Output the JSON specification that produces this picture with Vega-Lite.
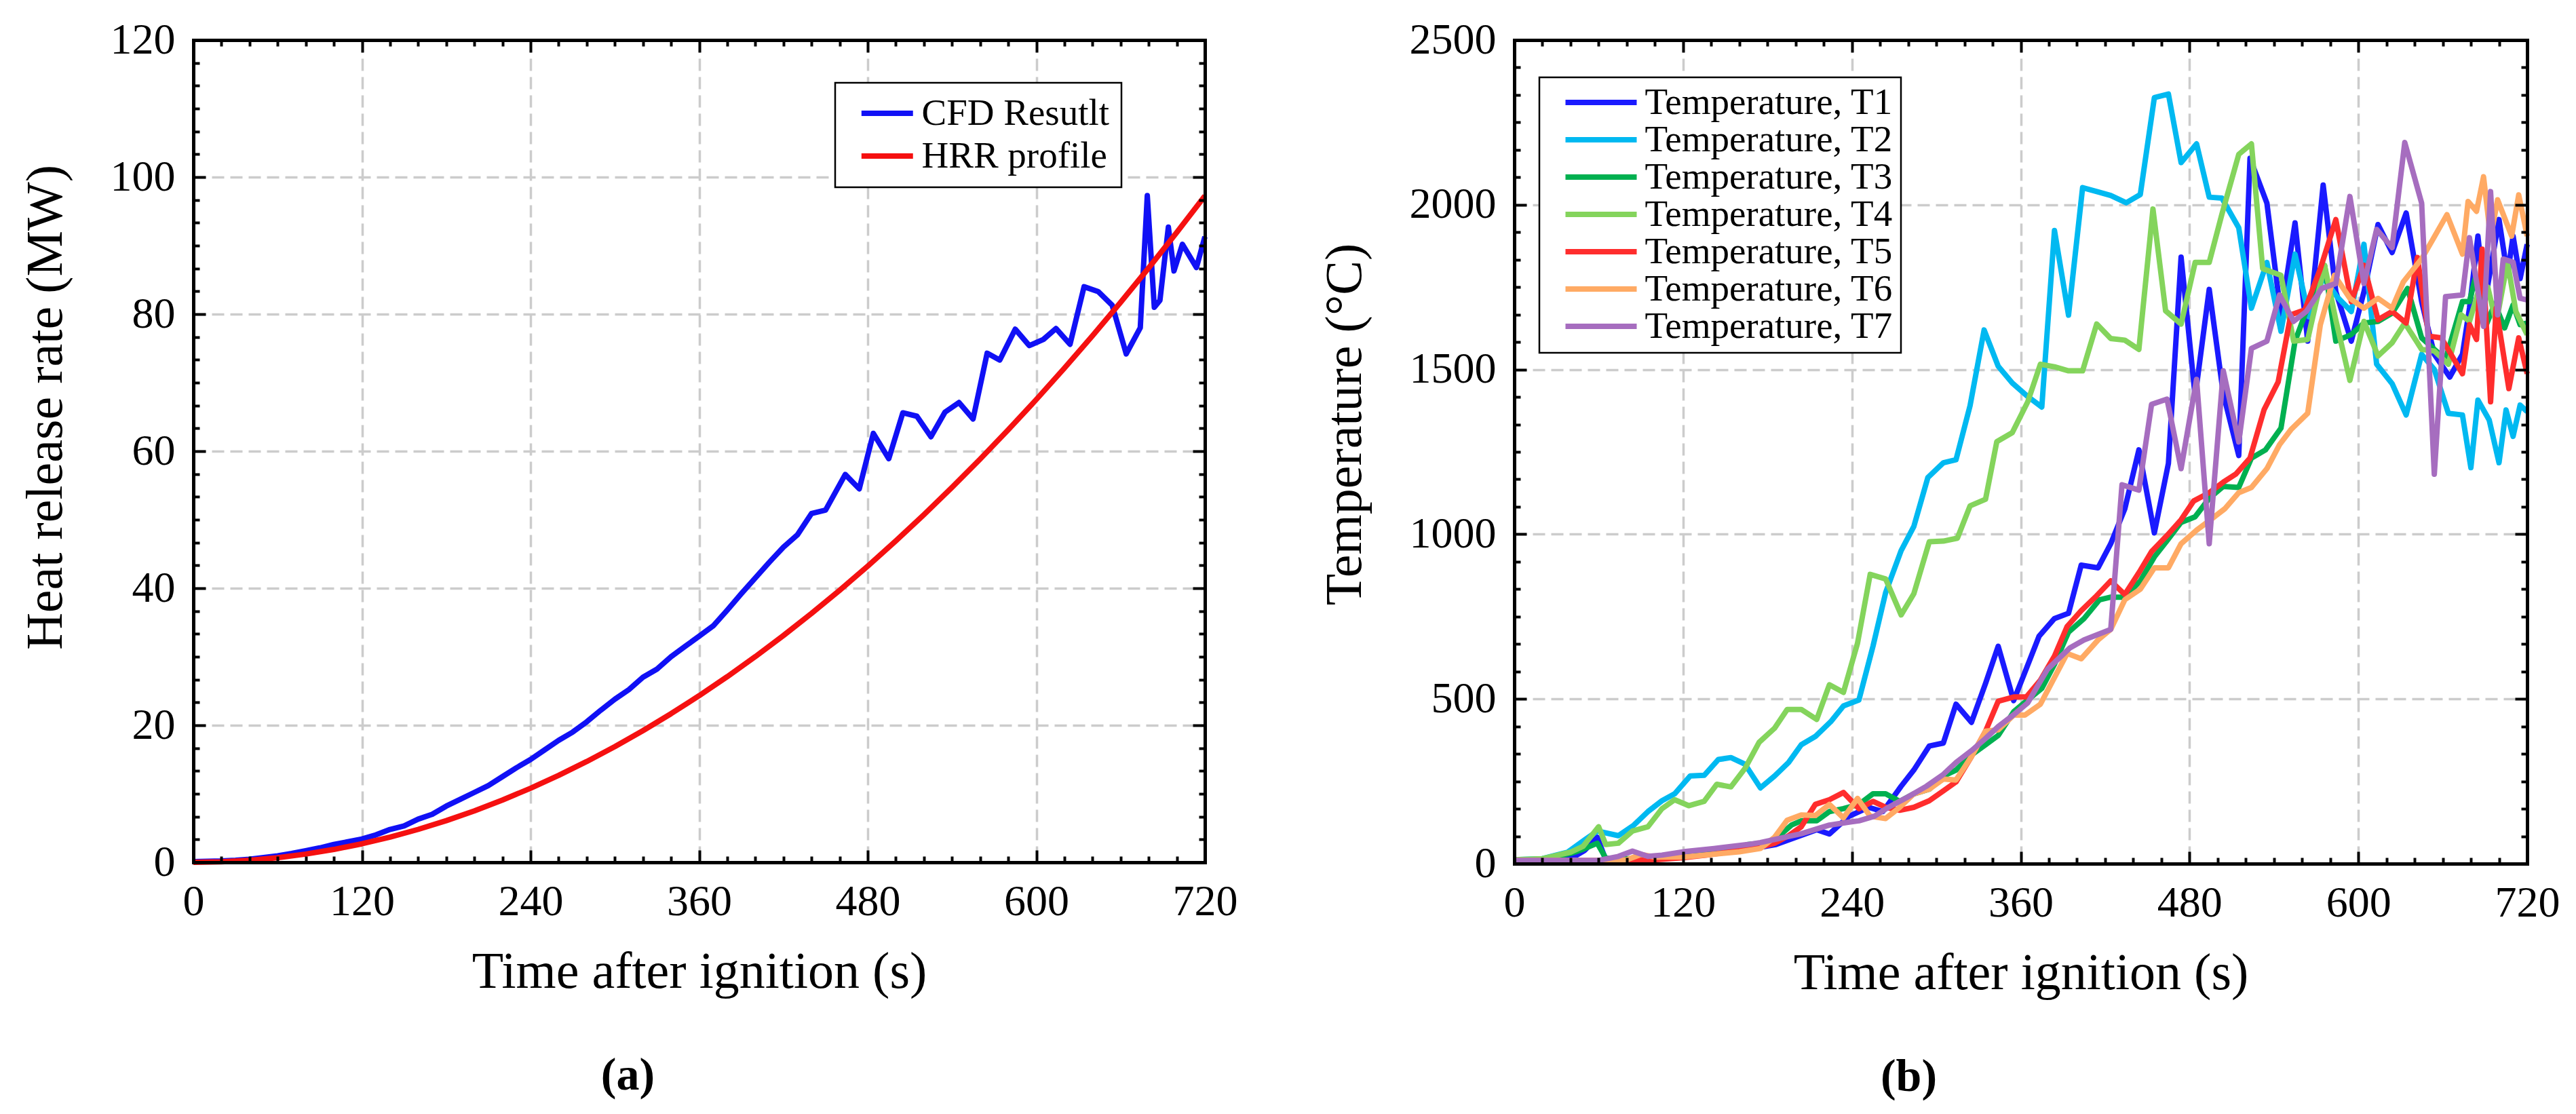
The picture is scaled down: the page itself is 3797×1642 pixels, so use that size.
{
  "$schema": "https://vega.github.io/schema/vega-lite/v6.json",
  "background": "white",
  "padding": {"left": 29, "top": 27, "right": 0, "bottom": 0},
  "config": {
    "font": "Liberation Serif",
    "view": {"stroke": null},
    "axis": {"labelFont": "Liberation Serif", "titleFont": "Liberation Serif", "labelColor": "black", "titleColor": "black", "titleFontWeight": "normal"},
    "legend": {"labelFont": "Liberation Serif", "labelColor": "black", "strokeColor": "black", "strokeWidth": 2.5, "fillColor": "white", "labelLimit": 1000}
  },
  "spacing": 120,
  "resolve": {"scale": {"color": "independent"}, "legend": {"color": "independent"}},
  "datasets": {
    "hrr": [
      {"t":0,"v":0.1,"s":"CFD Resutlt"},{"t":10,"v":0.15,"s":"CFD Resutlt"},{"t":20,"v":0.2,"s":"CFD Resutlt"},{"t":30,"v":0.3,"s":"CFD Resutlt"},{"t":40,"v":0.45,"s":"CFD Resutlt"},{"t":50,"v":0.7,"s":"CFD Resutlt"},{"t":60,"v":0.95,"s":"CFD Resutlt"},{"t":70,"v":1.3,"s":"CFD Resutlt"},{"t":80,"v":1.7,"s":"CFD Resutlt"},{"t":90,"v":2.1,"s":"CFD Resutlt"},{"t":100,"v":2.6,"s":"CFD Resutlt"},{"t":110,"v":3.0,"s":"CFD Resutlt"},{"t":120,"v":3.4,"s":"CFD Resutlt"},{"t":130,"v":4.0,"s":"CFD Resutlt"},{"t":140,"v":4.8,"s":"CFD Resutlt"},{"t":150,"v":5.3,"s":"CFD Resutlt"},{"t":160,"v":6.3,"s":"CFD Resutlt"},{"t":170,"v":7.0,"s":"CFD Resutlt"},{"t":180,"v":8.2,"s":"CFD Resutlt"},{"t":190,"v":9.2,"s":"CFD Resutlt"},{"t":200,"v":10.2,"s":"CFD Resutlt"},{"t":210,"v":11.2,"s":"CFD Resutlt"},{"t":220,"v":12.5,"s":"CFD Resutlt"},{"t":230,"v":13.8,"s":"CFD Resutlt"},{"t":240,"v":15.0,"s":"CFD Resutlt"},{"t":250,"v":16.4,"s":"CFD Resutlt"},{"t":260,"v":17.8,"s":"CFD Resutlt"},{"t":270,"v":19.0,"s":"CFD Resutlt"},{"t":280,"v":20.5,"s":"CFD Resutlt"},{"t":290,"v":22.2,"s":"CFD Resutlt"},{"t":300,"v":23.8,"s":"CFD Resutlt"},{"t":310,"v":25.2,"s":"CFD Resutlt"},{"t":320,"v":27.0,"s":"CFD Resutlt"},{"t":330,"v":28.2,"s":"CFD Resutlt"},{"t":340,"v":30.0,"s":"CFD Resutlt"},{"t":350,"v":31.5,"s":"CFD Resutlt"},{"t":360,"v":33.0,"s":"CFD Resutlt"},{"t":370,"v":34.5,"s":"CFD Resutlt"},{"t":380,"v":36.8,"s":"CFD Resutlt"},{"t":390,"v":39.2,"s":"CFD Resutlt"},{"t":400,"v":41.5,"s":"CFD Resutlt"},{"t":410,"v":43.8,"s":"CFD Resutlt"},{"t":420,"v":46.0,"s":"CFD Resutlt"},{"t":430,"v":47.8,"s":"CFD Resutlt"},{"t":440,"v":50.9,"s":"CFD Resutlt"},{"t":450,"v":51.4,"s":"CFD Resutlt"},{"t":464,"v":56.6,"s":"CFD Resutlt"},{"t":474,"v":54.5,"s":"CFD Resutlt"},{"t":484,"v":62.6,"s":"CFD Resutlt"},{"t":495,"v":58.9,"s":"CFD Resutlt"},{"t":505,"v":65.6,"s":"CFD Resutlt"},{"t":515,"v":65.1,"s":"CFD Resutlt"},{"t":525,"v":62.1,"s":"CFD Resutlt"},{"t":535,"v":65.7,"s":"CFD Resutlt"},{"t":545,"v":67.1,"s":"CFD Resutlt"},{"t":555,"v":64.7,"s":"CFD Resutlt"},{"t":565,"v":74.3,"s":"CFD Resutlt"},{"t":574,"v":73.3,"s":"CFD Resutlt"},{"t":585,"v":77.8,"s":"CFD Resutlt"},{"t":595,"v":75.4,"s":"CFD Resutlt"},{"t":605,"v":76.3,"s":"CFD Resutlt"},{"t":614,"v":77.9,"s":"CFD Resutlt"},{"t":624,"v":75.6,"s":"CFD Resutlt"},{"t":634,"v":84.0,"s":"CFD Resutlt"},{"t":644,"v":83.3,"s":"CFD Resutlt"},{"t":654,"v":81.3,"s":"CFD Resutlt"},{"t":664,"v":74.2,"s":"CFD Resutlt"},{"t":674,"v":78.0,"s":"CFD Resutlt"},{"t":679,"v":97.3,"s":"CFD Resutlt"},{"t":684,"v":81.0,"s":"CFD Resutlt"},{"t":688,"v":82.0,"s":"CFD Resutlt"},{"t":694,"v":92.7,"s":"CFD Resutlt"},{"t":698,"v":86.3,"s":"CFD Resutlt"},{"t":704,"v":90.2,"s":"CFD Resutlt"},{"t":714,"v":86.8,"s":"CFD Resutlt"},{"t":720,"v":91.3,"s":"CFD Resutlt"},
      {"t":0,"v":0,"s":"HRR profile"},{"t":20,"v":0.075,"s":"HRR profile"},{"t":40,"v":0.3,"s":"HRR profile"},{"t":60,"v":0.675,"s":"HRR profile"},{"t":80,"v":1.201,"s":"HRR profile"},{"t":100,"v":1.876,"s":"HRR profile"},{"t":120,"v":2.701,"s":"HRR profile"},{"t":140,"v":3.677,"s":"HRR profile"},{"t":160,"v":4.803,"s":"HRR profile"},{"t":180,"v":6.078,"s":"HRR profile"},{"t":200,"v":7.504,"s":"HRR profile"},{"t":220,"v":9.08,"s":"HRR profile"},{"t":240,"v":10.806,"s":"HRR profile"},{"t":260,"v":12.682,"s":"HRR profile"},{"t":280,"v":14.708,"s":"HRR profile"},{"t":300,"v":16.884,"s":"HRR profile"},{"t":320,"v":19.21,"s":"HRR profile"},{"t":340,"v":21.686,"s":"HRR profile"},{"t":360,"v":24.312,"s":"HRR profile"},{"t":380,"v":27.089,"s":"HRR profile"},{"t":400,"v":30.016,"s":"HRR profile"},{"t":420,"v":33.093,"s":"HRR profile"},{"t":440,"v":36.319,"s":"HRR profile"},{"t":460,"v":39.696,"s":"HRR profile"},{"t":480,"v":43.223,"s":"HRR profile"},{"t":500,"v":46.9,"s":"HRR profile"},{"t":520,"v":50.728,"s":"HRR profile"},{"t":540,"v":54.705,"s":"HRR profile"},{"t":560,"v":58.832,"s":"HRR profile"},{"t":580,"v":63.11,"s":"HRR profile"},{"t":600,"v":67.536,"s":"HRR profile"},{"t":620,"v":72.113,"s":"HRR profile"},{"t":640,"v":76.841,"s":"HRR profile"},{"t":660,"v":81.718,"s":"HRR profile"},{"t":680,"v":86.745,"s":"HRR profile"},{"t":700,"v":91.924,"s":"HRR profile"},{"t":720,"v":97.251,"s":"HRR profile"}
    ],
    "temp": [
      {"s":"T1","t":0,"v":10},{"s":"T1","t":10,"v":10},{"s":"T1","t":20,"v":10},{"s":"T1","t":30,"v":12},{"s":"T1","t":40,"v":15},{"s":"T1","t":50,"v":40},{"s":"T1","t":59,"v":80},{"s":"T1","t":65,"v":12},{"s":"T1","t":80,"v":12},{"s":"T1","t":100,"v":15},{"s":"T1","t":120,"v":22},{"s":"T1","t":140,"v":30},{"s":"T1","t":160,"v":40},{"s":"T1","t":175,"v":50},{"s":"T1","t":186,"v":58},{"s":"T1","t":200,"v":80},{"s":"T1","t":215,"v":103},{"s":"T1","t":224,"v":90},{"s":"T1","t":238,"v":144},{"s":"T1","t":252,"v":171},{"s":"T1","t":262,"v":158},{"s":"T1","t":275,"v":235},{"s":"T1","t":284,"v":284},{"s":"T1","t":295,"v":357},{"s":"T1","t":305,"v":366},{"s":"T1","t":314,"v":484},{"s":"T1","t":325,"v":429},{"s":"T1","t":335,"v":547},{"s":"T1","t":344,"v":660},{"s":"T1","t":355,"v":495},{"s":"T1","t":363,"v":581},{"s":"T1","t":373,"v":690},{"s":"T1","t":384,"v":744},{"s":"T1","t":394,"v":760},{"s":"T1","t":403,"v":906},{"s":"T1","t":415,"v":898},{"s":"T1","t":424,"v":971},{"s":"T1","t":434,"v":1077},{"s":"T1","t":444,"v":1256},{"s":"T1","t":455,"v":1004},{"s":"T1","t":465,"v":1215},{"s":"T1","t":474,"v":1841},{"s":"T1","t":484,"v":1418},{"s":"T1","t":494,"v":1743},{"s":"T1","t":504,"v":1426},{"s":"T1","t":515,"v":1239},{"s":"T1","t":523,"v":2141},{"s":"T1","t":535,"v":2005},{"s":"T1","t":545,"v":1666},{"s":"T1","t":555,"v":1945},{"s":"T1","t":564,"v":1586},{"s":"T1","t":575,"v":2060},{"s":"T1","t":584,"v":1736},{"s":"T1","t":595,"v":1586},{"s":"T1","t":604,"v":1736},{"s":"T1","t":614,"v":1940},{"s":"T1","t":624,"v":1855},{"s":"T1","t":634,"v":1975},{"s":"T1","t":645,"v":1706},{"s":"T1","t":654,"v":1546},{"s":"T1","t":665,"v":1477},{"s":"T1","t":674,"v":1546},{"s":"T1","t":679,"v":1686},{"s":"T1","t":685,"v":1905},{"s":"T1","t":690,"v":1706},{"s":"T1","t":700,"v":1955},{"s":"T1","t":706,"v":1786},{"s":"T1","t":710,"v":1905},{"s":"T1","t":715,"v":1776},{"s":"T1","t":720,"v":1880},
      {"s":"T2","t":0,"v":12},{"s":"T2","t":20,"v":15},{"s":"T2","t":38,"v":35},{"s":"T2","t":50,"v":72},{"s":"T2","t":59,"v":99},{"s":"T2","t":74,"v":85},{"s":"T2","t":85,"v":117},{"s":"T2","t":95,"v":158},{"s":"T2","t":105,"v":191},{"s":"T2","t":114,"v":212},{"s":"T2","t":125,"v":266},{"s":"T2","t":135,"v":268},{"s":"T2","t":145,"v":316},{"s":"T2","t":154,"v":322},{"s":"T2","t":164,"v":302},{"s":"T2","t":175,"v":230},{"s":"T2","t":185,"v":266},{"s":"T2","t":195,"v":307},{"s":"T2","t":204,"v":361},{"s":"T2","t":214,"v":386},{"s":"T2","t":225,"v":431},{"s":"T2","t":234,"v":479},{"s":"T2","t":245,"v":497},{"s":"T2","t":255,"v":660},{"s":"T2","t":264,"v":823},{"s":"T2","t":275,"v":950},{"s":"T2","t":284,"v":1023},{"s":"T2","t":294,"v":1172},{"s":"T2","t":305,"v":1217},{"s":"T2","t":314,"v":1226},{"s":"T2","t":324,"v":1390},{"s":"T2","t":334,"v":1620},{"s":"T2","t":344,"v":1510},{"s":"T2","t":354,"v":1459},{"s":"T2","t":365,"v":1418},{"s":"T2","t":375,"v":1386},{"s":"T2","t":384,"v":1922},{"s":"T2","t":394,"v":1665},{"s":"T2","t":404,"v":2052},{"s":"T2","t":415,"v":2039},{"s":"T2","t":424,"v":2028},{"s":"T2","t":435,"v":2006},{"s":"T2","t":445,"v":2031},{"s":"T2","t":455,"v":2325},{"s":"T2","t":465,"v":2336},{"s":"T2","t":474,"v":2128},{"s":"T2","t":485,"v":2185},{"s":"T2","t":494,"v":2023},{"s":"T2","t":503,"v":2020},{"s":"T2","t":515,"v":1930},{"s":"T2","t":524,"v":1686},{"s":"T2","t":535,"v":1825},{"s":"T2","t":545,"v":1616},{"s":"T2","t":555,"v":1850},{"s":"T2","t":565,"v":1660},{"s":"T2","t":575,"v":1780},{"s":"T2","t":585,"v":1720},{"s":"T2","t":595,"v":1676},{"s":"T2","t":604,"v":1880},{"s":"T2","t":613,"v":1516},{"s":"T2","t":624,"v":1457},{"s":"T2","t":634,"v":1362},{"s":"T2","t":645,"v":1546},{"s":"T2","t":654,"v":1500},{"s":"T2","t":664,"v":1367},{"s":"T2","t":674,"v":1362},{"s":"T2","t":680,"v":1202},{"s":"T2","t":685,"v":1407},{"s":"T2","t":693,"v":1347},{"s":"T2","t":700,"v":1217},{"s":"T2","t":705,"v":1377},{"s":"T2","t":710,"v":1297},{"s":"T2","t":715,"v":1392},{"s":"T2","t":720,"v":1372},
      {"s":"T3","t":0,"v":10},{"s":"T3","t":20,"v":12},{"s":"T3","t":40,"v":31},{"s":"T3","t":49,"v":44},{"s":"T3","t":59,"v":62},{"s":"T3","t":65,"v":17},{"s":"T3","t":80,"v":15},{"s":"T3","t":100,"v":18},{"s":"T3","t":120,"v":25},{"s":"T3","t":140,"v":35},{"s":"T3","t":155,"v":45},{"s":"T3","t":166,"v":58},{"s":"T3","t":175,"v":62},{"s":"T3","t":185,"v":72},{"s":"T3","t":197,"v":117},{"s":"T3","t":204,"v":130},{"s":"T3","t":215,"v":130},{"s":"T3","t":224,"v":158},{"s":"T3","t":234,"v":167},{"s":"T3","t":245,"v":180},{"s":"T3","t":255,"v":212},{"s":"T3","t":264,"v":212},{"s":"T3","t":274,"v":189},{"s":"T3","t":284,"v":212},{"s":"T3","t":295,"v":226},{"s":"T3","t":305,"v":266},{"s":"T3","t":314,"v":284},{"s":"T3","t":325,"v":330},{"s":"T3","t":335,"v":361},{"s":"T3","t":344,"v":389},{"s":"T3","t":355,"v":461},{"s":"T3","t":365,"v":497},{"s":"T3","t":375,"v":532},{"s":"T3","t":384,"v":605},{"s":"T3","t":394,"v":703},{"s":"T3","t":405,"v":744},{"s":"T3","t":416,"v":801},{"s":"T3","t":424,"v":809},{"s":"T3","t":434,"v":809},{"s":"T3","t":445,"v":858},{"s":"T3","t":455,"v":931},{"s":"T3","t":464,"v":980},{"s":"T3","t":474,"v":1036},{"s":"T3","t":484,"v":1053},{"s":"T3","t":494,"v":1109},{"s":"T3","t":504,"v":1145},{"s":"T3","t":515,"v":1142},{"s":"T3","t":524,"v":1231},{"s":"T3","t":534,"v":1256},{"s":"T3","t":545,"v":1322},{"s":"T3","t":555,"v":1586},{"s":"T3","t":565,"v":1700},{"s":"T3","t":576,"v":1816},{"s":"T3","t":584,"v":1586},{"s":"T3","t":595,"v":1606},{"s":"T3","t":604,"v":1641},{"s":"T3","t":614,"v":1646},{"s":"T3","t":624,"v":1671},{"s":"T3","t":635,"v":1746},{"s":"T3","t":645,"v":1596},{"s":"T3","t":654,"v":1561},{"s":"T3","t":662,"v":1531},{"s":"T3","t":674,"v":1706},{"s":"T3","t":679,"v":1706},{"s":"T3","t":683,"v":1776},{"s":"T3","t":691,"v":1636},{"s":"T3","t":697,"v":1700},{"s":"T3","t":704,"v":1626},{"s":"T3","t":710,"v":1696},{"s":"T3","t":715,"v":1636},{"s":"T3","t":720,"v":1641},
      {"s":"T4","t":0,"v":12},{"s":"T4","t":20,"v":15},{"s":"T4","t":40,"v":35},{"s":"T4","t":49,"v":53},{"s":"T4","t":60,"v":112},{"s":"T4","t":65,"v":58},{"s":"T4","t":74,"v":62},{"s":"T4","t":84,"v":99},{"s":"T4","t":95,"v":112},{"s":"T4","t":105,"v":167},{"s":"T4","t":114,"v":194},{"s":"T4","t":124,"v":176},{"s":"T4","t":135,"v":189},{"s":"T4","t":144,"v":241},{"s":"T4","t":154,"v":233},{"s":"T4","t":164,"v":289},{"s":"T4","t":174,"v":368},{"s":"T4","t":185,"v":411},{"s":"T4","t":194,"v":468},{"s":"T4","t":204,"v":468},{"s":"T4","t":215,"v":438},{"s":"T4","t":224,"v":543},{"s":"T4","t":234,"v":520},{"s":"T4","t":244,"v":669},{"s":"T4","t":253,"v":878},{"s":"T4","t":264,"v":864},{"s":"T4","t":275,"v":755},{"s":"T4","t":284,"v":819},{"s":"T4","t":295,"v":977},{"s":"T4","t":305,"v":979},{"s":"T4","t":315,"v":988},{"s":"T4","t":324,"v":1086},{"s":"T4","t":335,"v":1106},{"s":"T4","t":343,"v":1281},{"s":"T4","t":354,"v":1308},{"s":"T4","t":365,"v":1402},{"s":"T4","t":374,"v":1516},{"s":"T4","t":384,"v":1508},{"s":"T4","t":394,"v":1496},{"s":"T4","t":404,"v":1496},{"s":"T4","t":414,"v":1638},{"s":"T4","t":424,"v":1594},{"s":"T4","t":434,"v":1589},{"s":"T4","t":444,"v":1561},{"s":"T4","t":454,"v":1987},{"s":"T4","t":463,"v":1678},{"s":"T4","t":474,"v":1638},{"s":"T4","t":484,"v":1825},{"s":"T4","t":494,"v":1825},{"s":"T4","t":503,"v":1971},{"s":"T4","t":515,"v":2153},{"s":"T4","t":524,"v":2185},{"s":"T4","t":532,"v":1806},{"s":"T4","t":545,"v":1786},{"s":"T4","t":554,"v":1586},{"s":"T4","t":564,"v":1591},{"s":"T4","t":576,"v":1816},{"s":"T4","t":584,"v":1650},{"s":"T4","t":594,"v":1467},{"s":"T4","t":604,"v":1646},{"s":"T4","t":614,"v":1541},{"s":"T4","t":624,"v":1581},{"s":"T4","t":633,"v":1641},{"s":"T4","t":645,"v":1561},{"s":"T4","t":654,"v":1556},{"s":"T4","t":664,"v":1516},{"s":"T4","t":673,"v":1666},{"s":"T4","t":679,"v":1646},{"s":"T4","t":686,"v":1746},{"s":"T4","t":692,"v":1750},{"s":"T4","t":698,"v":1641},{"s":"T4","t":706,"v":1826},{"s":"T4","t":712,"v":1676},{"s":"T4","t":720,"v":1606},
      {"s":"T5","t":0,"v":10},{"s":"T5","t":20,"v":10},{"s":"T5","t":40,"v":10},{"s":"T5","t":60,"v":10},{"s":"T5","t":80,"v":10},{"s":"T5","t":100,"v":12},{"s":"T5","t":120,"v":18},{"s":"T5","t":140,"v":28},{"s":"T5","t":160,"v":40},{"s":"T5","t":175,"v":50},{"s":"T5","t":185,"v":62},{"s":"T5","t":195,"v":85},{"s":"T5","t":204,"v":112},{"s":"T5","t":214,"v":180},{"s":"T5","t":224,"v":194},{"s":"T5","t":234,"v":216},{"s":"T5","t":245,"v":167},{"s":"T5","t":255,"v":189},{"s":"T5","t":264,"v":171},{"s":"T5","t":274,"v":162},{"s":"T5","t":284,"v":171},{"s":"T5","t":295,"v":191},{"s":"T5","t":305,"v":221},{"s":"T5","t":314,"v":248},{"s":"T5","t":325,"v":325},{"s":"T5","t":335,"v":402},{"s":"T5","t":344,"v":493},{"s":"T5","t":355,"v":506},{"s":"T5","t":364,"v":506},{"s":"T5","t":374,"v":557},{"s":"T5","t":384,"v":630},{"s":"T5","t":393,"v":720},{"s":"T5","t":403,"v":768},{"s":"T5","t":413,"v":809},{"s":"T5","t":424,"v":858},{"s":"T5","t":434,"v":817},{"s":"T5","t":445,"v":890},{"s":"T5","t":453,"v":947},{"s":"T5","t":464,"v":996},{"s":"T5","t":474,"v":1044},{"s":"T5","t":483,"v":1101},{"s":"T5","t":494,"v":1126},{"s":"T5","t":504,"v":1158},{"s":"T5","t":513,"v":1183},{"s":"T5","t":523,"v":1231},{"s":"T5","t":533,"v":1378},{"s":"T5","t":543,"v":1462},{"s":"T5","t":552,"v":1666},{"s":"T5","t":562,"v":1681},{"s":"T5","t":573,"v":1806},{"s":"T5","t":584,"v":1955},{"s":"T5","t":595,"v":1706},{"s":"T5","t":604,"v":1816},{"s":"T5","t":614,"v":1651},{"s":"T5","t":624,"v":1676},{"s":"T5","t":634,"v":1641},{"s":"T5","t":642,"v":1840},{"s":"T5","t":650,"v":1601},{"s":"T5","t":659,"v":1596},{"s":"T5","t":674,"v":1487},{"s":"T5","t":679,"v":1636},{"s":"T5","t":684,"v":1591},{"s":"T5","t":688,"v":1865},{"s":"T5","t":694,"v":1402},{"s":"T5","t":698,"v":1686},{"s":"T5","t":707,"v":1442},{"s":"T5","t":714,"v":1596},{"s":"T5","t":720,"v":1487},
      {"s":"T6","t":0,"v":10},{"s":"T6","t":20,"v":10},{"s":"T6","t":40,"v":10},{"s":"T6","t":60,"v":10},{"s":"T6","t":80,"v":12},{"s":"T6","t":90,"v":28},{"s":"T6","t":100,"v":20},{"s":"T6","t":120,"v":20},{"s":"T6","t":140,"v":28},{"s":"T6","t":160,"v":36},{"s":"T6","t":175,"v":46},{"s":"T6","t":185,"v":80},{"s":"T6","t":194,"v":132},{"s":"T6","t":204,"v":148},{"s":"T6","t":214,"v":146},{"s":"T6","t":224,"v":180},{"s":"T6","t":234,"v":139},{"s":"T6","t":244,"v":198},{"s":"T6","t":253,"v":144},{"s":"T6","t":264,"v":137},{"s":"T6","t":274,"v":171},{"s":"T6","t":284,"v":212},{"s":"T6","t":295,"v":226},{"s":"T6","t":305,"v":257},{"s":"T6","t":314,"v":254},{"s":"T6","t":325,"v":325},{"s":"T6","t":335,"v":402},{"s":"T6","t":344,"v":406},{"s":"T6","t":355,"v":451},{"s":"T6","t":363,"v":451},{"s":"T6","t":374,"v":484},{"s":"T6","t":384,"v":565},{"s":"T6","t":393,"v":638},{"s":"T6","t":403,"v":622},{"s":"T6","t":415,"v":679},{"s":"T6","t":424,"v":711},{"s":"T6","t":434,"v":801},{"s":"T6","t":445,"v":833},{"s":"T6","t":455,"v":898},{"s":"T6","t":465,"v":898},{"s":"T6","t":474,"v":971},{"s":"T6","t":485,"v":1012},{"s":"T6","t":495,"v":1044},{"s":"T6","t":505,"v":1077},{"s":"T6","t":515,"v":1126},{"s":"T6","t":524,"v":1142},{"s":"T6","t":535,"v":1199},{"s":"T6","t":544,"v":1272},{"s":"T6","t":552,"v":1317},{"s":"T6","t":564,"v":1367},{"s":"T6","t":573,"v":1636},{"s":"T6","t":583,"v":1786},{"s":"T6","t":594,"v":1716},{"s":"T6","t":604,"v":1686},{"s":"T6","t":614,"v":1716},{"s":"T6","t":624,"v":1686},{"s":"T6","t":632,"v":1766},{"s":"T6","t":645,"v":1836},{"s":"T6","t":653,"v":1895},{"s":"T6","t":663,"v":1970},{"s":"T6","t":674,"v":1850},{"s":"T6","t":678,"v":2010},{"s":"T6","t":684,"v":1980},{"s":"T6","t":689,"v":2085},{"s":"T6","t":694,"v":1900},{"s":"T6","t":699,"v":2015},{"s":"T6","t":709,"v":1905},{"s":"T6","t":714,"v":2030},{"s":"T6","t":720,"v":1905},
      {"s":"T7","t":0,"v":10},{"s":"T7","t":20,"v":10},{"s":"T7","t":40,"v":10},{"s":"T7","t":60,"v":10},{"s":"T7","t":74,"v":22},{"s":"T7","t":84,"v":38},{"s":"T7","t":95,"v":22},{"s":"T7","t":105,"v":26},{"s":"T7","t":122,"v":37},{"s":"T7","t":142,"v":46},{"s":"T7","t":166,"v":58},{"s":"T7","t":175,"v":64},{"s":"T7","t":190,"v":78},{"s":"T7","t":204,"v":91},{"s":"T7","t":224,"v":117},{"s":"T7","t":238,"v":126},{"s":"T7","t":245,"v":130},{"s":"T7","t":256,"v":144},{"s":"T7","t":266,"v":171},{"s":"T7","t":280,"v":203},{"s":"T7","t":293,"v":235},{"s":"T7","t":305,"v":271},{"s":"T7","t":314,"v":307},{"s":"T7","t":325,"v":343},{"s":"T7","t":335,"v":380},{"s":"T7","t":344,"v":416},{"s":"T7","t":355,"v":452},{"s":"T7","t":365,"v":488},{"s":"T7","t":379,"v":590},{"s":"T7","t":395,"v":655},{"s":"T7","t":405,"v":679},{"s":"T7","t":424,"v":711},{"s":"T7","t":432,"v":1150},{"s":"T7","t":444,"v":1134},{"s":"T7","t":453,"v":1394},{"s":"T7","t":464,"v":1410},{"s":"T7","t":474,"v":1199},{"s":"T7","t":485,"v":1470},{"s":"T7","t":494,"v":971},{"s":"T7","t":504,"v":1496},{"s":"T7","t":515,"v":1280},{"s":"T7","t":524,"v":1564},{"s":"T7","t":535,"v":1586},{"s":"T7","t":544,"v":1726},{"s":"T7","t":554,"v":1646},{"s":"T7","t":563,"v":1676},{"s":"T7","t":574,"v":1746},{"s":"T7","t":584,"v":1761},{"s":"T7","t":594,"v":2025},{"s":"T7","t":604,"v":1761},{"s":"T7","t":613,"v":1925},{"s":"T7","t":624,"v":1870},{"s":"T7","t":633,"v":2189},{"s":"T7","t":645,"v":2005},{"s":"T7","t":654,"v":1182},{"s":"T7","t":662,"v":1721},{"s":"T7","t":674,"v":1726},{"s":"T7","t":679,"v":1900},{"s":"T7","t":689,"v":1631},{"s":"T7","t":694,"v":2040},{"s":"T7","t":699,"v":1666},{"s":"T7","t":703,"v":1835},{"s":"T7","t":710,"v":1826},{"s":"T7","t":715,"v":1716},{"s":"T7","t":720,"v":1711}
    ]
  },
  "hconcat": [
    {
      "width": 1491,
      "height": 1212,
      "data": {"name": "hrr"},
      "title": {"text": "(a)", "orient": "bottom", "fontSize": 68, "fontWeight": "bold", "font": "Liberation Serif", "color": "black", "offset": 82, "dx": -105},
      "layer": [
        {
          "mark": {"type": "line", "strokeWidth": 8, "strokeJoin": "round"},
          "encoding": {
            "x": {"field": "t", "type": "quantitative", "scale": {"domain": [0, 720], "nice": false},
              "axis": {"orient": "bottom", "values": [0, 120, 240, 360, 480, 600, 720], "grid": true, "ticks": false, "labels": false, "domain": false, "title": null, "gridColor": "#cccccc", "gridDash": [18, 9], "gridWidth": 3.5, "zindex": 0}},
            "y": {"field": "v", "type": "quantitative", "scale": {"domain": [0, 120], "nice": false},
              "axis": {"orient": "left", "values": [0, 20, 40, 60, 80, 100, 120], "grid": true, "ticks": false, "labels": false, "domain": false, "title": null, "gridColor": "#cccccc", "gridDash": [18, 9], "gridWidth": 3.5, "zindex": 0}},
            "color": {"field": "s", "type": "nominal",
              "scale": {"domain": ["CFD Resutlt", "HRR profile"], "range": ["#1010f5", "#f51010"]},
              "legend": {"orient": "none", "legendX": 946, "legendY": 63, "title": null, "symbolType": "M-0.49,0H5.51", "symbolSize": 641, "symbolStrokeWidth": 8, "labelFont": "Liberation Serif", "labelFontSize": 55, "labelOffset": 55, "rowPadding": 7, "padding": 17.5}}
          }
        },
        {
          "mark": {"type": "point", "opacity": 0},
          "encoding": {
            "x": {"field": "t", "type": "quantitative",
              "axis": {"orient": "bottom", "values": [0,20,40,60,80,100,120,140,160,180,200,220,240,260,280,300,320,340,360,380,400,420,440,460,480,500,520,540,560,580,600,620,640,660,680,700,720],
                "grid": false, "tickSize": {"condition": {"test": "datum.value % 120 === 0", "value": -18}, "value": -9}, "tickWidth": 4, "tickColor": "black",
                "domain": true, "domainWidth": 5, "domainColor": "black", "domainCap": "square",
                "labelExpr": "datum.value % 120 === 0 ? format(datum.value, 'd') : ''", "labelFont": "Liberation Serif", "labelFontSize": 64, "labelPadding": 44, "labelFlush": false, "labelOverlap": false,
                "title": "Time after ignition (s)", "titleFont": "Liberation Serif", "titleFontSize": 76, "titlePadding": 25, "zindex": 1}},
            "y": {"field": "v", "type": "quantitative",
              "axis": {"orient": "left", "values": [0,3.333,6.667,10,13.333,16.667,20,23.333,26.667,30,33.333,36.667,40,43.333,46.667,50,53.333,56.667,60,63.333,66.667,70,73.333,76.667,80,83.333,86.667,90,93.333,96.667,100,103.333,106.667,110,113.333,116.667,120],
                "grid": false, "tickSize": {"condition": {"test": "round(datum.value) % 20 === 0", "value": -18}, "value": -9}, "tickWidth": 4, "tickColor": "black",
                "domain": true, "domainWidth": 5, "domainColor": "black", "domainCap": "square",
                "labelExpr": "round(datum.value) % 20 === 0 ? format(datum.value, 'd') : ''", "labelFont": "Liberation Serif", "labelFontSize": 64, "labelPadding": 45, "labelOverlap": false,
                "title": "Heat release rate (MW)", "titleFont": "Liberation Serif", "titleFontSize": 76, "titlePadding": 56, "titleY": 541, "zindex": 1}}
          }
        },
        {
          "mark": {"type": "point", "opacity": 0},
          "encoding": {
            "x": {"field": "t", "type": "quantitative",
              "axis": {"orient": "top", "values": [0,20,40,60,80,100,120,140,160,180,200,220,240,260,280,300,320,340,360,380,400,420,440,460,480,500,520,540,560,580,600,620,640,660,680,700,720],
                "grid": false, "tickSize": {"condition": {"test": "datum.value % 120 === 0", "value": -18}, "value": -9}, "tickWidth": 4, "tickColor": "black",
                "domain": true, "domainWidth": 5, "domainColor": "black", "domainCap": "square", "labels": false, "title": null, "zindex": 1}},
            "y": {"field": "v", "type": "quantitative",
              "axis": {"orient": "right", "values": [0,3.333,6.667,10,13.333,16.667,20,23.333,26.667,30,33.333,36.667,40,43.333,46.667,50,53.333,56.667,60,63.333,66.667,70,73.333,76.667,80,83.333,86.667,90,93.333,96.667,100,103.333,106.667,110,113.333,116.667,120],
                "grid": false, "tickSize": {"condition": {"test": "round(datum.value) % 20 === 0", "value": -18}, "value": -9}, "tickWidth": 4, "tickColor": "black",
                "domain": true, "domainWidth": 5, "domainColor": "black", "domainCap": "square", "labels": false, "title": null, "zindex": 1}}
          }
        }
      ],
      "resolve": {"axis": {"x": "independent", "y": "independent"}}
    },
    {
      "width": 1493,
      "height": 1214,
      "data": {"name": "temp"},
      "title": {"text": "(b)", "orient": "bottom", "fontSize": 68, "fontWeight": "bold", "font": "Liberation Serif", "color": "black", "offset": 82, "dx": -165},
      "layer": [
        {
          "mark": {"type": "line", "strokeWidth": 8, "strokeJoin": "round"},
          "encoding": {
            "x": {"field": "t", "type": "quantitative", "scale": {"domain": [0, 720], "nice": false},
              "axis": {"orient": "bottom", "values": [0, 120, 240, 360, 480, 600, 720], "grid": true, "ticks": false, "labels": false, "domain": false, "title": null, "gridColor": "#cccccc", "gridDash": [18, 9], "gridWidth": 3.5, "zindex": 0}},
            "y": {"field": "v", "type": "quantitative", "scale": {"domain": [0, 2500], "nice": false},
              "axis": {"orient": "left", "values": [0, 500, 1000, 1500, 2000, 2500], "grid": true, "ticks": false, "labels": false, "domain": false, "title": null, "gridColor": "#cccccc", "gridDash": [18, 9], "gridWidth": 3.5, "zindex": 0}},
            "color": {"field": "s", "type": "nominal",
              "scale": {"domain": ["T1", "T2", "T3", "T4", "T5", "T6", "T7"], "range": ["#1a1aff", "#00b9f1", "#00b050", "#84d45c", "#ff2d2d", "#ffaa64", "#a66dbf"]},
              "legend": {"orient": "none", "legendX": 37, "legendY": 55, "title": null, "symbolType": "M0,0H6", "symbolSize": 1225, "symbolStrokeWidth": 8, "labelFont": "Liberation Serif", "labelFontSize": 55, "labelOffset": 89.5, "rowPadding": 0, "clipHeight": 52, "padding": 11, "labelExpr": "'Temperature, ' + datum.label"}}
          }
        },
        {
          "mark": {"type": "point", "opacity": 0},
          "encoding": {
            "x": {"field": "t", "type": "quantitative",
              "axis": {"orient": "bottom", "values": [0,20,40,60,80,100,120,140,160,180,200,220,240,260,280,300,320,340,360,380,400,420,440,460,480,500,520,540,560,580,600,620,640,660,680,700,720],
                "grid": false, "tickSize": {"condition": {"test": "datum.value % 120 === 0", "value": -18}, "value": -9}, "tickWidth": 4, "tickColor": "black",
                "domain": true, "domainWidth": 5, "domainColor": "black", "domainCap": "square",
                "labelExpr": "datum.value % 120 === 0 ? format(datum.value, 'd') : ''", "labelFont": "Liberation Serif", "labelFontSize": 64, "labelPadding": 44, "labelFlush": false, "labelOverlap": false,
                "title": "Time after ignition (s)", "titleFont": "Liberation Serif", "titleFontSize": 76, "titlePadding": 25, "zindex": 1}},
            "y": {"field": "v", "type": "quantitative",
              "axis": {"orient": "left", "values": [0,83.333,166.667,250,333.333,416.667,500,583.333,666.667,750,833.333,916.667,1000,1083.333,1166.667,1250,1333.333,1416.667,1500,1583.333,1666.667,1750,1833.333,1916.667,2000,2083.333,2166.667,2250,2333.333,2416.667,2500],
                "grid": false, "tickSize": {"condition": {"test": "round(datum.value) % 500 === 0", "value": -18}, "value": -9}, "tickWidth": 4, "tickColor": "black",
                "domain": true, "domainWidth": 5, "domainColor": "black", "domainCap": "square",
                "labelExpr": "round(datum.value) % 500 === 0 ? format(datum.value, 'd') : ''", "labelFont": "Liberation Serif", "labelFontSize": 64, "labelPadding": 45, "labelOverlap": false,
                "title": "Temperature (°C)", "titleFont": "Liberation Serif", "titleFontSize": 76, "titlePadding": 56, "titleY": 566, "zindex": 1}}
          }
        },
        {
          "mark": {"type": "point", "opacity": 0},
          "encoding": {
            "x": {"field": "t", "type": "quantitative",
              "axis": {"orient": "top", "values": [0,20,40,60,80,100,120,140,160,180,200,220,240,260,280,300,320,340,360,380,400,420,440,460,480,500,520,540,560,580,600,620,640,660,680,700,720],
                "grid": false, "tickSize": {"condition": {"test": "datum.value % 120 === 0", "value": -18}, "value": -9}, "tickWidth": 4, "tickColor": "black",
                "domain": true, "domainWidth": 5, "domainColor": "black", "domainCap": "square", "labels": false, "title": null, "zindex": 1}},
            "y": {"field": "v", "type": "quantitative",
              "axis": {"orient": "right", "values": [0,83.333,166.667,250,333.333,416.667,500,583.333,666.667,750,833.333,916.667,1000,1083.333,1166.667,1250,1333.333,1416.667,1500,1583.333,1666.667,1750,1833.333,1916.667,2000,2083.333,2166.667,2250,2333.333,2416.667,2500],
                "grid": false, "tickSize": {"condition": {"test": "round(datum.value) % 500 === 0", "value": -18}, "value": -9}, "tickWidth": 4, "tickColor": "black",
                "domain": true, "domainWidth": 5, "domainColor": "black", "domainCap": "square", "labels": false, "title": null, "zindex": 1}}
          }
        }
      ],
      "resolve": {"axis": {"x": "independent", "y": "independent"}}
    }
  ]
}
